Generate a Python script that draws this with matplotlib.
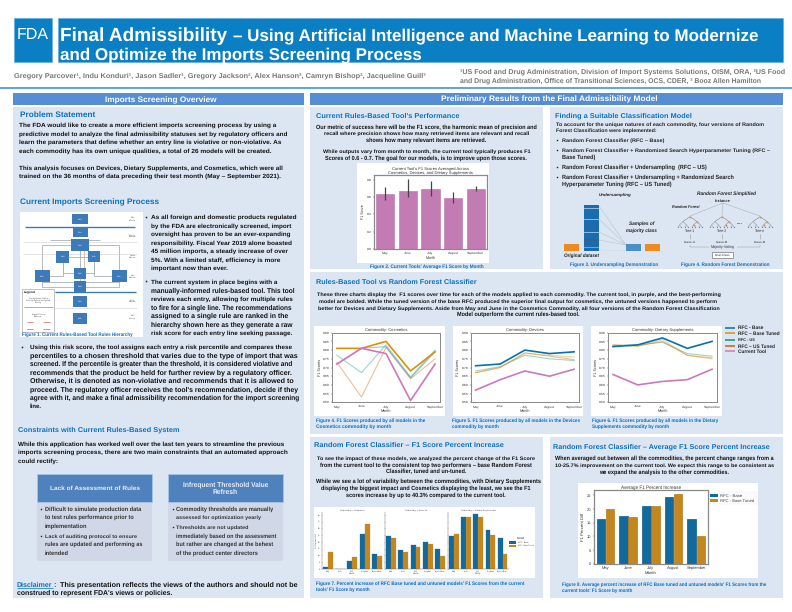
import matplotlib
matplotlib.use("Agg")
import matplotlib.pyplot as plt
from matplotlib.patches import Rectangle
import numpy as np

plt.rcParams['font.family'] = ['Liberation Sans', 'DejaVu Sans']
plt.rcParams['text.hinting'] = 'no_hinting'
plt.rcParams['text.hinting_factor'] = 8

# ---------- chart data ----------
months = ["May", "June", "July", "August", "September"]
tool_f1 = [0.64, 0.675, 0.69, 0.59, 0.695]
tool_low = [0.56, 0.595, 0.615, 0.53, 0.675]
tool_high = [0.72, 0.81, 0.78, 0.655, 0.725]

cos_base = [0.72, 0.81, 0.82, 0.64, 0.79]
cos_tuned = [0.81, 0.81, 0.85, 0.68, 0.79]
cos_us = [0.77, 0.67, 0.83, 0.645, 0.80]
cos_ustuned = [0.73, 0.53, 0.815, 0.635, 0.75]
cos_tool = [0.72, 0.81, 0.78, 0.51, 0.72]

dev_base = [0.71, 0.72, 0.80, 0.78, 0.79]
dev_tuned = [0.67, 0.70, 0.78, 0.77, 0.76]
dev_us = [0.68, 0.705, 0.77, 0.75, 0.74]
dev_ustuned = [0.67, 0.70, 0.785, 0.765, 0.745]
dev_tool = [0.57, 0.63, 0.68, 0.65, 0.69]

sup_base = [0.82, 0.83, 0.87, 0.81, 0.85]
sup_tuned = [0.83, 0.82, 0.86, 0.77, 0.75]
sup_us = [0.825, 0.83, 0.845, 0.78, 0.765]
sup_ustuned = [0.83, 0.825, 0.85, 0.77, 0.755]
sup_tool = [0.66, 0.60, 0.62, 0.63, 0.69]

pct_cos_base = [1.2, 0, 6.2, 25.6, 10.8]
pct_cos_tuned = [12.3, 0, 8.6, 33.3, 9.4]
pct_dev_base = [24.4, 14, 17.5, 19.7, 14.5]
pct_dev_tuned = [22.7, 12.6, 16, 18.2, 9.9]
pct_sup_base = [24.1, 38.2, 40.4, 28.6, 22.9]
pct_sup_tuned = [25.6, 38.2, 38.7, 25.4, 11.3]

avg_base = [16.5, 17.4, 21.3, 24.5, 16.2]
avg_tuned = [20.2, 17.0, 21.2, 25.7, 10.3]

# ---------- colours ----------
C_BAR = '#0b7fc3'
C_HEAD = '#558ed5'
C_PANEL = '#dce6f2'
C_TITLE = '#0b70c0'
C_CAP = '#0a6cc0'
C_TEXT = '#111111'
C_BASE, C_TUNED, C_US, C_USTUNED, C_TOOL = '#0173b2', '#de8f05', '#029e73', '#d55e00', '#cc78bc'
C_BAR_BASE, C_BAR_TUNED = '#11699c', '#c4861f'
C_SPINE = '#8a8a8a'
C_TXT_AX = '#333333'

fig = plt.figure(figsize=(7.92, 6.12), dpi=100, facecolor='white')
bg = fig.add_axes([0, 0, 1, 1], zorder=0)
bg.set_xlim(0, 792)
bg.set_ylim(612, 0)
bg.axis('off')
renderer = fig.canvas.get_renderer()


def rect(x0, y0, x1, y1, color, ec='none', lw=0, z=1, alpha=None):
    bg.add_patch(Rectangle((x0, y0), x1 - x0, y1 - y0, fc=color, ec=ec, lw=lw, zorder=z, alpha=alpha))


def line(xs, ys, color='#999999', lw=0.5, z=2, **kw):
    bg.plot(xs, ys, color=color, lw=lw, zorder=z, solid_capstyle='butt', **kw)


def fit(x0, x1, y, s, color=C_TEXT, weight='bold', style='normal', z=5):
    """Left-aligned line whose size is chosen so that it spans x0..x1, centred on y."""
    size = 20.0
    t = bg.text(x0, y, s, color=color, fontweight=weight, fontstyle=style, fontsize=size,
                ha='left', va='baseline', zorder=z)
    for _ in range(4):
        w = t.get_window_extent(renderer).width
        size = size * (x1 - x0) / w
        t.set_fontsize(size)
    t.set_y(y + 0.34 * size * 100 / 72)
    return t


def block(lines, **kw):
    for ln in lines:
        fit(*ln, **kw)


# ---------- header ----------
rect(13.5, 17.5, 52, 61.5, C_BAR, ec='#5fa8dc', lw=0.4)
rect(58, 18, 783, 61.5, C_BAR, ec='#5fa8dc', lw=0.4)
fit(17, 49, 33.5, "FDA", color='white', weight='normal')
fit(60.5, 227, 34.5, "Final Admissibility", color='white')
fit(233, 760, 35, "– Using Artificial Intelligence and Machine Learning to Modernize", color='white')
fit(60, 422, 54, "and Optimize the Imports Screening Process", color='white')
fit(14, 425.5, 75.3,
    "Gregory Parcover¹, Indu Konduri¹, Jason Sadler¹, Gregory Jackson², Alex Hanson², Camryn Bishop², Jacqueline Guill³",
    color='#777777')
fit(459.5, 783, 71, "¹US Food and Drug Administration, Division of Import Systems Solutions, OISM, ORA, ²US Food", color='#777777')
fit(459.5, 760, 80, "and Drug Administration, Office of Transitional Sciences, OCS, CDER, ³ Booz Allen Hamilton", color='#777777')
line([0, 792], [87.8, 87.8], color='#2a8fdc', lw=1.1)

# ---------- section bars and panels ----------
rect(13, 93, 304, 105, C_HEAD)
rect(310, 93, 783, 105, C_HEAD)
fit(105, 216, 99, "Imports Screening Overview", color='white')
fit(441, 655, 99, "Preliminary Results from the Final Admissibility Model", color='white')
rect(13, 107, 304, 598, C_PANEL)
rect(310, 107, 543, 269, C_PANEL)
rect(550, 107, 783, 269, C_PANEL)
rect(310, 272, 783, 434, C_PANEL)
rect(310, 437, 543, 598, C_PANEL)
rect(550, 437, 783, 598, C_PANEL)

# ---------- left column ----------
fit(19.5, 95, 114, "Problem Statement", color=C_TITLE)
block([
    (19.3, 275, 124.7, "The FDA would like to create a more efficient imports screening process by using a"),
    (19.3, 291, 133.3, "predictive model to analyze the final admissibility statuses set by regulatory officers and"),
    (19.3, 279, 142, "learn the parameters that define whether an entry line is violative or non-violative. As"),
    (19.3, 269, 150.3, "each commodity has its own unique qualities, a total of 26 models will be created."),
    (19.3, 286, 167.3, "This analysis focuses on Devices, Dietary Supplements, and Cosmetics, which were all"),
    (19.3, 278, 175.7, "trained on the 36 months of data preceding their test month (May – September 2021)."),
])
fit(19.5, 159, 201, "Current Imports Screening Process", color=C_TITLE)

block([
    (151, 295, 217, "As all foreign and domestic products regulated"),
    (151, 293, 225.3, "by the FDA are electronically screened, import"),
    (151, 292, 233.7, "oversight has proven to be an ever-expanding"),
    (151, 292, 242.3, "responsibility. Fiscal Year 2019 alone boasted"),
    (151, 287, 250.7, "45 million imports, a steady increase of over"),
    (151, 279, 259.3, "5%. With a limited staff, efficiency is more"),
    (151, 227, 267.7, "important now than ever."),
    (151, 279, 281.3, "The current system in place begins with a"),
    (151, 293, 290, "manually-informed rules-based tool. This tool"),
    (151, 292, 298.3, "reviews each entry, allowing for multiple rules"),
    (151, 291, 307, "to fire for a single line. The recommendations"),
    (151, 289, 315.3, "assigned to a single rule are ranked in the"),
    (151, 292, 324, "hierarchy shown here as they generate a raw"),
    (151, 293, 332.3, "risk score for each entry line seeking passage."),
    (30, 295, 346.7, "Using this risk score, the tool assigns each entry a risk percentile and compares these"),
    (30, 295, 355, "percentiles to a chosen threshold that varies due to the type of import that was"),
    (30, 295, 363.7, "screened. If the percentile is greater than the threshold, it is considered violative and"),
    (30, 295, 372, "recommends that the product be held for further review by a regulatory officer."),
    (30, 295, 380.3, "Otherwise, it is denoted as non-violative and recommends that it is allowed to"),
    (30, 295, 388.7, "proceed. The regulatory officer receives the tool's recommendation, decide if they"),
    (30, 295, 397.3, "agree with it, and make a final admissibility recommendation for the import screening"),
    (30, 42, 405.7, "line."),
    (18, 287, 443.3, "While this application has worked well over the last ten years to streamline the previous"),
    (18, 285, 451.7, "imports screening process, there are two main constraints that an automated approach"),
    (18, 58, 460.3, "could rectify:"),
])
for bx, by in [(146, 217), (146, 281.3), (22, 346.7)]:
    bg.plot([bx], [by], 's', ms=1.1, color='#222222', zorder=5, mew=0)
fit(18, 178, 429.3, "Constraints with Current Rules-Based System", color=C_TITLE)

rect(37, 474, 152, 502, '#4f81bd', ec='#a9c4e4', lw=0.6)
rect(167.5, 474, 283, 502, '#4f81bd', ec='#a9c4e4', lw=0.6)
rect(37, 503, 152, 561, '#d0d8e8')
rect(167.5, 503, 283, 561, '#d0d8e8')
fit(50, 140, 487.5, "Lack of Assessment of Rules", color='#e9eef6')
fit(183, 268, 484, "Infrequent Threshold Value", color='#e9eef6')
fit(213, 238, 491.5, "Refresh", color='#e9eef6')
block([
    (45, 142, 508.7, "Difficult to simulate production data"),
    (45, 134, 517.3, "to test rules performance prior to"),
    (45, 87, 526, "implementation"),
    (45, 137, 535.7, "Lack of auditing protocol to ensure"),
    (45, 142, 544.3, "rules are updated and performing as"),
    (45, 69, 552.7, "intended"),
    (176, 272, 508.7, "Commodity thresholds are manually"),
    (176, 261, 517.3, "assessed for optimization yearly"),
    (176, 248, 526.7, "Thresholds are not updated"),
    (176, 277, 535.7, "immediately based on the assessment"),
    (176, 273, 544.3, "but rather are changed at the behest"),
    (176, 257, 552.7, "of the product center directors"),
], color='#333333')
for bx, by in [(41, 508.7), (41, 535.7), (172.5, 508.7), (172.5, 526.7)]:
    bg.plot([bx], [by], 's', ms=1.0, color='#222222', zorder=5, mew=0)
fit(17, 53, 584.3, "Disclaimer", color=C_TITLE)
line([17, 53], [588, 588], color=C_TITLE, lw=0.5)
fit(53.5, 56, 584.3, ":", color=C_TITLE)
fit(60, 300, 584.3, "This presentation reflects the views of the authors and should not be")
fit(17, 172, 592.7, "construed to represent FDA's views or policies.")

# ---------- Figure 1 flow diagram ----------
rect(20, 212, 143, 337, 'white')
def fx(z): return z / 3
def fy(z): return 90 + z / 3
C_FLOW = '#3d7ab8'
flow_boxes = [(240, 387, 48, 28), (240, 428, 45, 26), (240, 465, 52, 38), (188, 500, 38, 35),
              (282, 500, 35, 34), (127, 558, 47, 34), (240, 550, 37, 32), (240, 590, 37, 32),
              (358, 558, 47, 34), (240, 635, 42, 34), (240, 685, 42, 34)]
flow_links = [(240, 465, 188, 500), (240, 465, 282, 500), (188, 500, 127, 558), (282, 500, 358, 558),
              (188, 500, 240, 550), (282, 500, 240, 550), (240, 465, 240, 590), (127, 558, 240, 590),
              (358, 558, 240, 590), (127, 465, 358, 465), (127, 465, 127, 558), (358, 465, 358, 558),
              (127, 575, 358, 575), (150, 450, 300, 450)]
for x0, y0, x1, y1 in flow_links:
    line([fx(x0), fx(x0), fx(x1)], [fy(y0), fy(y1), fy(y1)], color='#a8b0b8', lw=0.6, z=2)
line([fx(252), fx(252)], [fy(480), fy(570)], color='#c78f8f', lw=0.4, z=2)
line([fx(75), fx(405)], [fy(410), fy(410)], color=C_FLOW, lw=1.0, z=3)
line([fx(165), fx(407)], [fy(606), fy(606)], color=C_FLOW, lw=1.0, z=3)
for zy in (455, 491, 655):
    line([fx(70), fx(410)], [fy(zy), fy(zy)], color='#d0d0d0', lw=0.4, z=2)
for cx, cy, w, h in flow_boxes:
    rect(fx(cx - w / 2), fy(cy - h / 2), fx(cx + w / 2), fy(cy + h / 2), C_FLOW, z=3)
    bg.text(fx(cx), fy(cy), "Rule", color='#d8e6f4', fontsize=1.6, ha='center', va='center', zorder=4)
for zy, s in [(387, "Max\nPriority"), (437, "Priority\nReview"), (500, "Intake\nReview"),
              (560, "Max\nReview"), (632, "Entry\nReview"), (680, "Max\nPriority")]:
    bg.text(fx(398), fy(zy), s, color='#555555', fontsize=1.6, ha='center', va='center', zorder=4)
rect(fx(67), fy(596), fx(162), fy(725), 'white', ec='#aaaaaa', lw=0.5, z=4)
bg.text(fx(90), fy(606), "Legend", color='#222222', fontsize=2.4, fontweight='bold', ha='center', va='center', zorder=5)
for zy, s in [(630, "Break Down Higher\nPriority Before Accepted\nPriority"), (675, "Equal Priority\nBalance")]:
    bg.text(fx(115), fy(zy), s, color='#444444', fontsize=1.6, ha='center', va='center', zorder=5)
line([fx(72), fx(158)], [fy(650), fy(650)], color=C_FLOW, lw=0.4, z=5)
for zy, col in [(697, '#d8604c'), (716, '#d8604c')]:
    line([fx(80), fx(100)], [fy(zy), fy(zy)], color=col, lw=0.5, z=5)
    line([fx(130), fx(150)], [fy(zy), fy(zy)], color=col, lw=0.5, z=5)
fit(22.5, 135, 334.5, "Figure 1. Current Rules-Based Tool Rules Hierarchy", color=C_CAP)

# ---------- Panel A text ----------
fit(316, 459, 115.7, "Current Rules-Based Tool's Performance", color=C_TITLE)
block([
    (316, 537, 126.7, "Our metric of success here will be the F1 score, the harmonic mean of precision and"),
    (324, 529, 133.3, "recall where precision shows how many retrieved items are relevant and recall"),
    (366, 487, 139.7, "shows how many relevant items are retrieved."),
    (323, 530, 151.3, "While outputs vary from month to month, the current tool typically produces F1"),
    (325, 528, 158.3, "Scores of 0.6 - 0.7. The goal for our models, is to improve upon those scores."),
])
rect(357, 163, 489, 263, 'white')
fit(370, 483, 266.3, "Figure 2. Current Tools' Average F1 Score by Month", color=C_CAP)

# ---------- Panel B ----------
fit(555, 691, 114.7, "Finding a Suitable Classification Model", color=C_TITLE)
block([
    (556, 764, 124, "To account for the unique natures of each commodity, four versions of Random"),
    (556, 658, 130.5, "Forest Classification were implemented:"),
    (562, 665, 140.3, "Random Forest Classifier (RFC – Base)"),
    (562, 771, 150.3, "Random Forest Classifier + Randomized Search Hyperparameter Tuning (RFC –"),
    (562, 595, 157, "Base Tuned)"),
    (562, 708, 167, "Random Forest Classifier + Undersampling  (RFC – US)"),
    (562, 735, 176.7, "Random Forest Classifier + Undersampling + Randomized Search"),
    (562, 673, 183.7, "Hyperparameter Tuning (RFC – US Tuned)"),
], color='#222222')
for by in (140.3, 150.3, 167, 176.7):
    bg.plot([557], [by], 's', ms=1.0, color='#222222', zorder=5, mew=0)

# undersampling illustration
rect(584, 205, 599, 250.7, '#1a6bb0', z=2)
for y0, y1, col in [(208, 209, '#8fb8dc'), (219, 220, '#8fb8dc'), (232, 233, '#8fb8dc'),
                    (239, 241, '#3a5f85'), (247, 248, '#6fa2cf')]:
    rect(584, y0, 599, y1, col, z=3)
for y0 in (206, 219, 232, 240):
    line([599, 626], [y0, 245], color='#b9c4cf', lw=0.4, z=2)
line([599, 626], [250, 250], color='#b9c4cf', lw=0.4, z=2, ls=':')
rect(564, 244, 579, 250.5, '#f08a1c', z=2)
rect(625.7, 244, 641, 251, '#4a90c8', z=3)
rect(645, 244, 660, 250.5, '#f08a1c', z=2)
fit(599, 631, 195, "Undersampling", style='italic', color='#222222')
fit(629, 654, 223.7, "Samples of", style='italic', color='#222222')
fit(626, 657, 230, "majority class", style='italic', color='#222222')
fit(564, 599, 255, "Original dataset", style='italic', color='#222222')
fit(570, 659, 264.7, "Figure 3. Undersampling Demonstration", color=C_CAP)

# random forest illustration
fit(697, 755, 193.7, "Random Forest Simplified", style='italic', color='#222222')
fit(715, 731, 200.7, "Instance", style='italic', color='#222222')
fit(672, 699, 207, "Random Forest", style='italic', color='#222222')
for i, cx in enumerate([690, 722, 760]):
    line([723, cx], [203, 216], color='#aab4be', lw=0.4)
    mids = [cx - 7, cx + 7]
    for m in mids:
        line([cx, m], [216.7, 221.5], color='#777777', lw=0.35)
        for d in (-3.5, 3.5):
            line([m, m + d], [221.5, 225], color='#777777', lw=0.3)
            for e in (-1.7, 1.7):
                line([m + d, m + d + e], [225, 227], color='#777777', lw=0.25)
                bg.plot([m + d + e], [227], 'o', ms=0.9, color='#4a90c8', zorder=4, mew=0)
    for px, py in [(cx, 216.7), (cx + 7, 221.5), (cx + 3.5, 225)]:
        bg.plot([px], [py], 's', ms=1.1, color='#e9842a', zorder=4, mew=0)
    fit(cx - 5, cx + 5, 231, "Tree-%s" % ("1", "2", "n")[i], weight='normal', color='#333333')
    line([cx, cx], [234, 238.5], color='#b0b0b0', lw=0.6)
    fit(cx - 6, cx + 6, 242, "Class-%s" % ("A", "B", "B")[i], weight='normal', color='#333333')
fit(737, 743, 222, "....", weight='bold', color='#333333')
line([690, 709], [247, 247], color='#999999', lw=0.35)
line([737, 760], [247, 247], color='#999999', lw=0.35)
line([690, 690], [245, 247], color='#999999', lw=0.35)
line([760, 760], [245, 247], color='#999999', lw=0.35)
fit(711, 735, 247.3, "Majority-Voting", weight='normal', color='#333333')
rect(712, 251.5, 733, 258, 'white', ec='#777777', lw=0.5, z=3)
fit(714.5, 730.5, 254.7, "Final-Class", weight='normal', color='#333333')
fit(681, 769, 264.7, "Figure 4. Random Forest Demonstration", color=C_CAP)

# ---------- Panel C text ----------
fit(316, 479, 281, "Rules-Based Tool vs Random Forest Classifier", color=C_TITLE)
block([
    (317, 720, 294.3, "These three charts display the  F1 scores over time for each of the models applied to each commodity. The current tool, in purple, and the best-performing"),
    (319, 717, 301, "model are bolded. While the tuned version of the base RFC produced the superior final output for cosmetics, the untuned versions happened to perform"),
    (318, 719, 308, "better for Devices and Dietary Supplements. Aside from May and June in the Cosmetics Commodity, all four versions of the Random Forest Classification"),
    (457, 579, 314.3, "Model outperform the current rules-based tool."),
])
for x0, x1 in [(314, 445), (453, 583), (591, 722)]:
    rect(x0, 325.7, x1, 415.7, 'white')
block([
    (316, 425, 420.3, "Figure 4. F1 Scores produced by all models in the"),
    (316, 392, 426.3, "Cosmetics commodity by month"),
    (452, 579, 420.3, "Figure 5. F1 Scores produced by all models in the Devices"),
    (452, 499, 426.3, "commodity by month"),
    (592, 718, 420.3, "Figure 6. F1 Scores produced by all models in the Dietary"),
    (592, 669, 426.3, "Supplements commodity by month"),
], color=C_CAP)
legend_rows = [("RFC - Base", C_BASE, 327.7, 763), ("RFC – Base Tuned", C_TUNED, 333.3, 779),
               ("RFC - US", C_US, 339.7, 755), ("RFC – US Tuned", C_USTUNED, 346, 774),
               ("Current Tool", C_TOOL, 351.3, 766)]
for s, col, y, xe in legend_rows:
    line([725, 735], [y, y], color=col, lw=1.1)
    fit(738, xe, y, s, color='#222222')

# ---------- Panel D text ----------
fit(314, 503, 444, "Random Forest Classifier – F1 Score Percent Increase", color=C_TITLE)
block([
    (317, 536, 458.3, "To see the impact of these models, we analyzed the percent change of the F1 Score"),
    (320, 532, 465, "from the current tool to the consistent top two performers – base Random Forest"),
    (386, 467, 471.3, "Classifier, tuned and un-tuned."),
    (316, 537, 481, "While we see a lot of variability between the commodities, with Dietary Supplements"),
    (321, 532, 488, "displaying the biggest impact and Cosmetics displaying the least, we see the F1"),
    (346, 506, 494.7, "scores increase by up to 40.3% compared to the current tool."),
])
rect(314, 507.3, 535, 577.7, 'white')
fit(316, 523, 583.3, "Figure 7. Percent increase of RFC Base tuned and untuned models' F1 Scores from the current", color=C_CAP)
fit(316, 370, 589.3, "tools' F1 Score by month", color=C_CAP)

# ---------- Panel E text ----------
fit(553, 772, 445.7, "Random Forest Classifier – Average F1 Score Percent Increase", color=C_TITLE)
block([
    (555, 774, 458.3, "When averaged out between all the commodities, the percent change ranges from a"),
    (555, 774, 465, "10-25.7% improvement on the current tool. We expect this range to be consistent as"),
    (599, 729, 471.7, "we expand the analysis to the other commodities."),
])
rect(578, 482.7, 758, 578, 'white')
fit(562, 770, 584.7, "Figure 8. Average percent increase of RFC Base tuned and untuned models' F1 Scores from the", color=C_CAP)
fit(562, 632, 590.3, "current tools' F1 Score by month", color=C_CAP)


# ---------- chart helpers ----------
def pix_axes(x0, y0, x1, y1):
    return fig.add_axes([x0 / 792, 1 - y1 / 612, (x1 - x0) / 792, (y1 - y0) / 612], zorder=3, facecolor='white')


def style(ax, spine=C_SPINE, lw=0.9, fs=3.0, both=True):
    for s in ax.spines.values():
        s.set_color(spine)
        s.set_linewidth(lw)
    if not both:
        ax.spines['top'].set_visible(False)
        ax.spines['right'].set_visible(False)
    ax.tick_params(labelsize=fs, length=1.0, width=0.3, pad=0.8, colors=C_TXT_AX)


x = np.arange(5)

# Figure 2
ax = pix_axes(374, 175, 487, 249)
ax.bar(x, tool_f1, width=0.8, color='#c27bb3', ec='#b86fa8', lw=0.4)
for i in x:
    ax.plot([i, i], [tool_low[i], tool_high[i]], color='#444444', lw=0.9, solid_capstyle='butt')
ax.set_xlim(-0.5, 4.5)
ax.set_ylim(0, 0.854)
ax.set_yticks([0, 0.2, 0.4, 0.6, 0.8])
ax.set_xticks(x, months)
style(ax, fs=2.5)
ax.set_xlabel("Month", fontsize=2.6, labelpad=1.3, color=C_TXT_AX)
ax.set_ylabel("F1 Score", fontsize=2.6, labelpad=1.5, color=C_TXT_AX)
ax.set_title("Current Tool's F1 Scores Averaged Across\nCosmetics, Devices, and Dietary Supplements",
             fontsize=3.0, pad=0.8, color=C_TXT_AX, linespacing=1.05)

# Figures 4-6
line_charts = [
    (332, 440, "Commodity: Cosmetics", cos_base, cos_tuned, cos_us, cos_ustuned, cos_tool, 'tuned'),
    (470.7, 579, "Commodity: Devices", dev_base, dev_tuned, dev_us, dev_ustuned, dev_tool, 'base'),
    (608, 717, "Commodity: Dietary Supplements", sup_base, sup_tuned, sup_us, sup_ustuned, sup_tool, 'base'),
]
for x0, x1, title, b, t, u, ut, cur, bold in line_charts:
    ax = pix_axes(x0, 332.7, x1, 402.3)
    pale = dict(lw=0.8, alpha=0.4)
    ax.plot(x, u, color=C_US, **pale)
    ax.plot(x, ut, color=C_USTUNED, **pale)
    if bold == 'tuned':
        ax.plot(x, b, color=C_BASE, **pale)
        ax.plot(x, t, color=C_TUNED, lw=1.2)
    else:
        ax.plot(x, t, color=C_TUNED, **pale)
        ax.plot(x, b, color=C_BASE, lw=1.2)
    ax.plot(x, cur, color=C_TOOL, lw=1.2)
    ax.set_xlim(-0.2, 4.2)
    ax.set_ylim(0.5, 0.9)
    ax.set_yticks(np.arange(0.5, 0.91, 0.05))
    ax.set_yticklabels(["%.2f" % v for v in np.arange(0.5, 0.91, 0.05)])
    ax.set_xticks(x, months)
    style(ax, fs=2.5, lw=0.7)
    ax.set_xlabel("Month", fontsize=2.7, labelpad=0.9, color=C_TXT_AX)
    ax.set_ylabel("F1 Scores", fontsize=2.7, labelpad=1.0, color=C_TXT_AX)
    ax.set_title(title, fontsize=3.0, pad=0.8, color=C_TXT_AX)

# Figure 7 facets
facets = [
    (321.7, 383, "Commodity = Cosmetics", pct_cos_base, pct_cos_tuned),
    (385, 446, "Commodity = Devices", pct_dev_base, pct_dev_tuned),
    (447.7, 508.7, "Commodity = Dietary Supplements", pct_sup_base, pct_sup_tuned),
]
for k, (x0, x1, title, b, t) in enumerate(facets):
    ax = pix_axes(x0, 511.7, x1, 569)
    ax.bar(x - 0.2, b, width=0.4, color=C_BAR_BASE, ec=C_BAR_BASE, lw=0.2)
    ax.bar(x + 0.2, t, width=0.4, color=C_BAR_TUNED, ec=C_BAR_TUNED, lw=0.2)
    ax.set_xlim(-0.5, 4.5)
    ax.set_ylim(0, 42.4)
    ax.set_yticks(np.arange(0, 41, 5))
    ax.set_xticks(x, months)
    style(ax, spine='#666666', lw=0.3, fs=1.5, both=False)
    ax.tick_params(length=0.6, width=0.2, pad=0.4)
    if k:
        ax.tick_params(labelleft=False)
    else:
        ax.set_ylabel("F1 Percent Diff", fontsize=1.6, labelpad=0.5, color=C_TXT_AX)
    ax.set_xlabel("Month", fontsize=1.6, labelpad=0.3, color=C_TXT_AX)
    ax.set_title(title, fontsize=1.6, pad=0.6, color=C_TXT_AX)
fit(517, 525, 538, "Model", weight='normal', color='#333333')
for s, col, y, xe in [("RFC - Base", C_BAR_BASE, 542.3, 529), ("RFC - Base Tuned", C_BAR_TUNED, 545.7, 534)]:
    rect(509, y - 1.2, 516, y + 1.2, col, z=4)
    fit(518, xe, y, s, weight='normal', color='#333333')

# Figure 8
ax = pix_axes(594, 490, 707.7, 563.7)
ax.bar(x - 0.2, avg_base, width=0.38, color=C_BAR_BASE, ec='#0c5a86', lw=0.5)
ax.bar(x + 0.2, avg_tuned, width=0.38, color=C_BAR_TUNED, ec='#b57a18', lw=0.5)
ax.set_xlim(-0.5, 4.5)
ax.set_ylim(0, 27)
ax.set_yticks(np.arange(0, 26, 5))
ax.set_xticks(x, months)
style(ax, fs=2.9)
ax.set_xlabel("Month", fontsize=3.1, labelpad=0.8, color=C_TXT_AX)
ax.set_ylabel("F1 Percent Diff", fontsize=3.1, labelpad=1.5, color=C_TXT_AX)
ax.set_title("Average F1 Percent Increase", fontsize=3.3, pad=0.8, color=C_TXT_AX)
rect(709, 491.7, 757, 504, '#fbfbfb', ec='#eeeeee', lw=0.3, z=2)
for s, col, y, xe in [("RFC - Base", C_BAR_BASE, 495.7, 742), ("RFC - Base Tuned", C_BAR_TUNED, 500.7, 755)]:
    rect(710, y - 1.4, 718, y + 1.4, col, z=4)
    fit(720, xe, y, s, weight='normal', color='#444444')

fig.savefig("out.png", dpi=100, facecolor='white')
